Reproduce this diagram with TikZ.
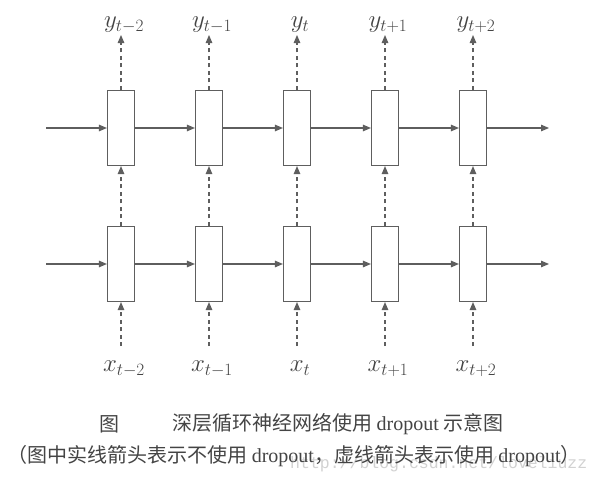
\documentclass[tikz,border=0pt]{standalone}
\usepackage{fontspec}
\newfontfamily\cjk{Noto Sans CJK SC}
\newfontfamily\tms{Liberation Serif}
\newfontfamily\wmk{Liberation Mono}
\usetikzlibrary{arrows.meta}
\definecolor{ink}{HTML}{5E5E5E}
\definecolor{txt}{HTML}{444444}
\definecolor{wm}{HTML}{D2D2D2}
\tikzset{
  cell/.style={draw=ink, line width=1.1pt, fill=white, minimum width=27pt, minimum height=75pt, inner sep=0pt},
  flow/.style={draw=ink, line width=1.1pt, -{Triangle[length=8pt,width=6.5pt]}},
  drop/.style={draw=ink, line width=1.1pt, dash pattern=on 4pt off 3.5pt, -{Triangle[length=8pt,width=6.5pt]}},
  lab/.style={text=txt, inner sep=0pt, font=\fontsize{27}{30}\selectfont},
  captext/.style={text=txt, inner sep=0pt, font=\fontsize{20}{22}\selectfont\cjk},
}
\begin{document}
\begin{tikzpicture}[x=1pt,y=-1pt]
\useasboundingbox (0,0) rectangle (612,485);
\fill[white] (0,0) rectangle (612,485);
% boxes and labels
\foreach \i/\c/\s in {1/121/{t-2},2/209/{t-1},3/297/{t},4/385/{t+1},5/473/{t+2}}{
  \node[cell] (u\i) at (\c,128) {};
  \node[cell] (l\i) at (\c,264) {};
  \node[lab, anchor=south] (y\i) at (\c+3,33) {$y_{\s}$};
  \node[lab, anchor=north] (x\i) at (\c+3,361) {$x_{\s}$};
  \draw[drop, shorten >=2pt] (u\i.north) -- (u\i.north |- y\i.south);
  \draw[drop] (l\i.north) -- (u\i.south);
  \draw[drop, shorten <=15pt] (l\i.south |- x\i.north) -- (l\i.south);
}
% horizontal recurrent connections
\coordinate (ua) at (46,128);
\coordinate (ub) at (549,128);
\coordinate (la) at (46,264);
\coordinate (lb) at (549,264);
\draw[flow] (ua) -- (u1.west);
\draw[flow] (la) -- (l1.west);
\foreach \i/\j in {1/2,2/3,3/4,4/5}{
  \draw[flow] (u\i.east) -- (u\j.west);
  \draw[flow] (l\i.east) -- (l\j.west);
}
\draw[flow] (u5.east) -- (ub);
\draw[flow] (l5.east) -- (lb);
% caption
\node[text=wm, inner sep=0pt, font=\fontsize{16.5}{18}\selectfont\wmk, anchor=west] (wmk) at (290,464) {http://blog.csdn.net/loveliuzz};
\node[captext] (c0) at (109,424) {图};
\node[captext, anchor=west] (c1) at (172,424) {深层循环神经网络使用 {\tms dropout} 示意图};
\node[captext] (c2) at (294,456) {（图中实线箭头表示不使用 {\tms dropout}，虚线箭头表示使用 {\tms dropout}）};
\end{tikzpicture}
\end{document}
